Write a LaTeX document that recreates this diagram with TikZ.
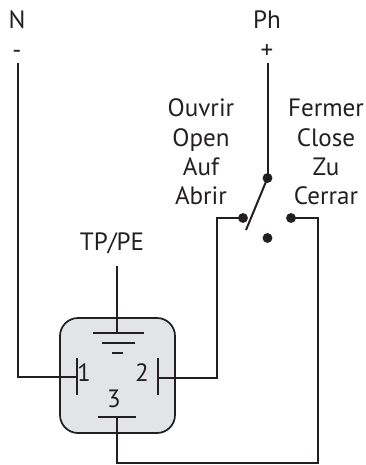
\documentclass[tikz,border=0pt]{standalone}
\usepackage{fontspec}
\setmainfont{PT Sans}
\definecolor{ink}{RGB}{35,31,32}
\definecolor{boxfill}{RGB}{226,228,230}
\tikzset{
  x=0.75pt,y=-0.75pt,
  wire/.style={draw=ink,line width=1.5pt,line join=miter},
  body/.style={draw=ink,fill=boxfill,line width=1.3pt,rounded corners=13.5pt},
  lab/.style={text=ink,inner sep=0pt,anchor=base,font=\fontsize{18.8pt}{22pt}\selectfont},
  contact/.style={circle,fill=ink,inner sep=0pt,minimum size=7.4pt},
}
\begin{document}
\begin{tikzpicture}
\useasboundingbox (0,0) rectangle (366,465);
% housing
\draw[body] (60,318) rectangle (175,433);
% labels
\node[lab] (n) at (17,28) {N};
\node[lab] (minus) at (17,58) {-};
\node[lab] (ph) at (267,28) {Ph};
\node[lab] (plus) at (267,58) {+};
\node[lab] (o1) at (201,116.5) {Ouvrir};
\node[lab] (o2) at (201,146) {Open};
\node[lab] (o3) at (201,175) {Auf};
\node[lab] (o4) at (201,204) {Abrir};
\node[lab] (f1) at (326,116.5) {Fermer};
\node[lab] (f2) at (326,146) {Close};
\node[lab] (f3) at (326,175) {Zu};
\node[lab] (f4) at (326,204) {Cerrar};
\node[lab] (tp) at (112,250) {TP/PE};
\node[lab] (t1) at (84,381) {1};
\node[lab] (t2) at (142,381) {2};
\node[lab] (t3) at (114,407) {3};
% contacts
\node[contact] (com) at (267.5,178) {};
\node[contact] (open) at (243,218) {};
\node[contact] (close) at (291,218) {};
\node[contact] (mid) at (267.5,238) {};
% free points
\coordinate (ntop) at (17.5,63);
\coordinate (phtop) at (267.5,63);
\coordinate (armend) at (246,230);
\coordinate (t1a) at (77,358); \coordinate (t1b) at (77,395); \coordinate (t1m) at (77,377);
\coordinate (t2a) at (158,358); \coordinate (t2b) at (158,395); \coordinate (t2m) at (158,378);
\coordinate (t3a) at (98,417); \coordinate (t3b) at (136,417); \coordinate (t3m) at (117,417);
\coordinate (gtop) at (117,266); \coordinate (gm) at (117,333);
\coordinate (g1a) at (93,333); \coordinate (g1b) at (144,333);
\coordinate (g2a) at (102,342.5); \coordinate (g2b) at (135,342.5);
\coordinate (g3a) at (112,352.5); \coordinate (g3b) at (123,352.5);
% wires
\draw[wire] (ntop) |- (t1m);
\draw[wire] (phtop) -- (com.center);
\draw[wire] (com.center) -- (armend);
\draw[wire] (open.center) -- (217,218) |- (t2m);
\draw[wire] (close.center) -- (318,218) |- (117,463) -- (t3m);
\draw[wire] (gtop) -- (gm);
% terminal bars
\draw[wire] (t1a) -- (t1b);
\draw[wire] (t2a) -- (t2b);
\draw[wire] (t3a) -- (t3b);
\draw[wire] (g1a) -- (g1b);
\draw[wire] (g2a) -- (g2b);
\draw[wire] (g3a) -- (g3b);
\end{tikzpicture}
\end{document}
